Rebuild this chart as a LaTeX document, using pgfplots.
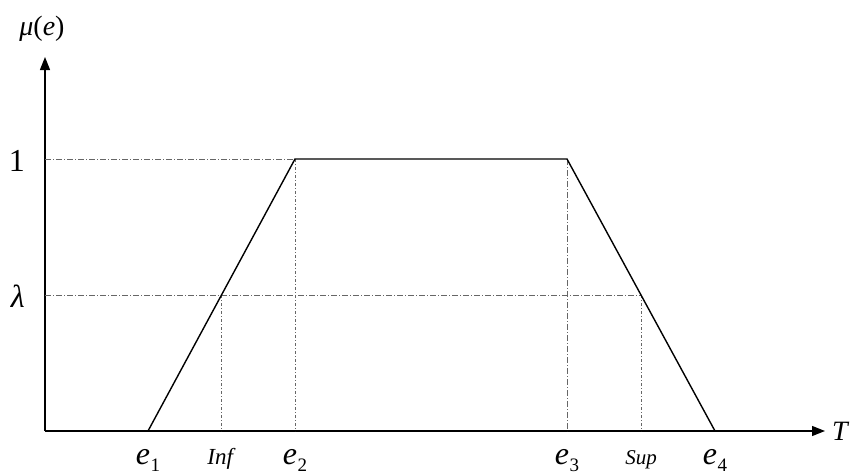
\documentclass[border=0pt]{standalone}
\usepackage{pgfplots}
\pgfplotsset{compat=1.18}
\usepackage{fontspec}
\setmainfont{Liberation Serif}
\usetikzlibrary{arrows.meta}

% e with an upright subscript index
\newcommand\ee[1]{\textit{e}\kern0.5pt\raisebox{-7pt}{\fontsize{19pt}{19pt}\selectfont #1}}

\begin{document}
\begin{tikzpicture}[x=1pt,y=1pt]
\useasboundingbox (0,0) rectangle (852,475);
\begin{axis}[
  at={(45pt,44pt)}, anchor=south west,
  scale only axis, width=780pt, height=374pt,
  xmin=0, xmax=780, ymin=0, ymax=1.375,
  axis lines=left,
  axis line style={line width=1.3pt, -{Triangle[length=13pt,width=10pt]}},
  major tick length=0pt,
  xtick={103,176.5,250,522,596,670},
  xticklabels={\ee{1},{\fontsize{23pt}{23pt}\selectfont\textit{Inf}},\ee{2},\ee{3},{\fontsize{21pt}{21pt}\selectfont\textit{Sup}},\ee{4}},
  xticklabel style={anchor=base, yshift=-33pt, inner sep=0pt, font=\fontsize{32pt}{32pt}\selectfont},
  ytick={0.5,1},
  yticklabels={\textit{λ},1},
  yticklabel style={anchor=base east, xshift=-20pt, yshift=-12pt, inner sep=0pt, font=\fontsize{32pt}{32pt}\selectfont},
  clip=false,
]
% guide lines
\addplot[gray!80!black, line width=0.7pt, dash pattern=on 6pt off 2pt on 1pt off 2pt]
  coordinates {(0,1) (250,1)};
\addplot[gray!80!black, line width=0.7pt, dash pattern=on 6pt off 2pt on 1pt off 2pt]
  coordinates {(0,0.5) (596,0.5)};
\addplot[gray!80!black, line width=0.7pt, dash pattern=on 3pt off 2pt on 1pt off 2pt]
  coordinates {(176.5,0.5) (176.5,0)};
\addplot[gray!80!black, line width=0.7pt, dash pattern=on 3pt off 2pt on 1pt off 2pt]
  coordinates {(250,1) (250,0)};
\addplot[gray!80!black, line width=0.7pt, dash pattern=on 6pt off 2pt on 1pt off 2pt]
  coordinates {(522,1) (522,0)};
\addplot[gray!80!black, line width=0.7pt, dash pattern=on 3pt off 2pt on 1pt off 2pt]
  coordinates {(596,0.5) (596,0)};
% trapezoidal membership function
\addplot[black, line width=1.4pt, line join=miter]
  coordinates {(103,0) (250,1) (522,1) (670,0)};
% axis names
\node[font=\fontsize{28pt}{28pt}\selectfont] at (axis cs:-3,1.48) {\textit{μ}(\textit{e})};
\node[anchor=west, font=\fontsize{28pt}{28pt}\selectfont, inner sep=0pt] at (axis cs:787,0) {\textit{T}};
\end{axis}
\end{tikzpicture}
\end{document}
